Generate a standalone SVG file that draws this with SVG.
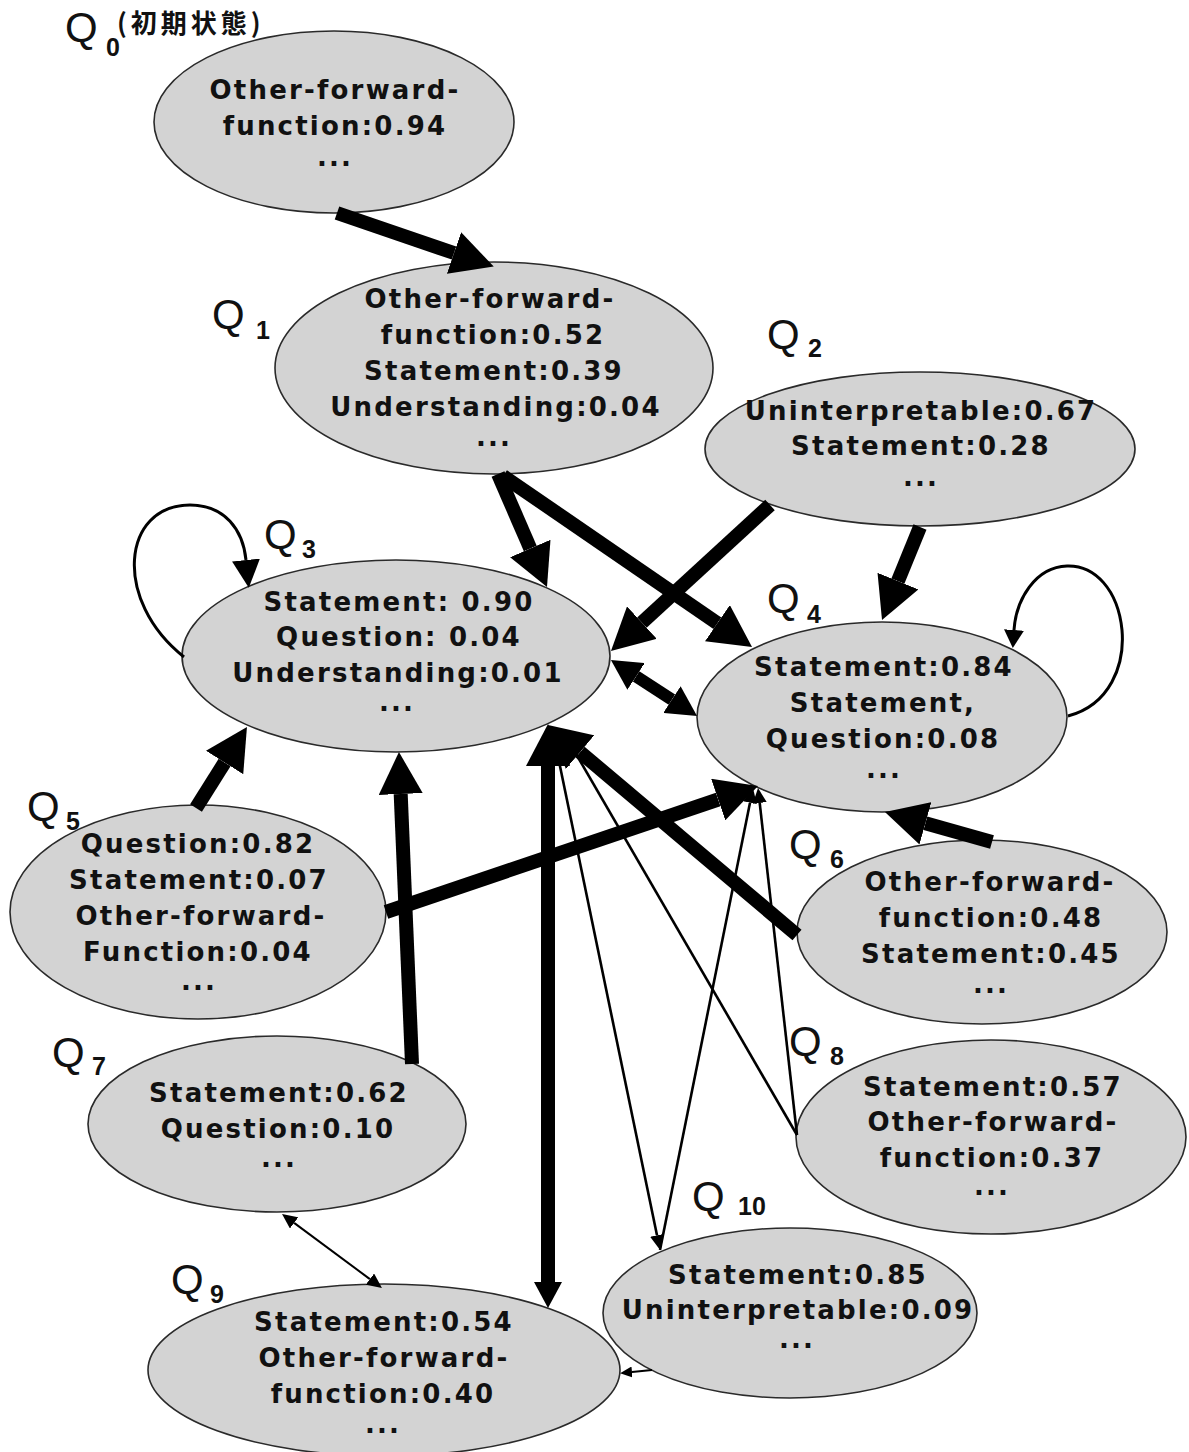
<svg xmlns="http://www.w3.org/2000/svg" width="1189" height="1452" viewBox="0 0 1189 1452">
  <style>
    .node ellipse { fill: #d3d3d3; stroke: #2a2a2a; stroke-width: 1.6; }
    .node text.t { font-family: "DejaVu Sans", Verdana, sans-serif; font-weight: bold; font-size: 26px; letter-spacing: 2.2px; text-anchor: middle; fill: #111; }
    .q { font-family: "Liberation Sans", Arial, sans-serif; font-size: 42px; fill: #111; }
    .sub { font-family: "Liberation Sans", Arial, sans-serif; font-weight: bold; font-size: 25px; fill: #111; }
    .init { font-family: "Noto Sans CJK JP", sans-serif; font-weight: bold; font-size: 26px; letter-spacing: 4px; fill: #111; }
    .thick { fill: none; stroke: #000; stroke-width: 14; }
    .med { fill: none; stroke: #000; stroke-width: 12; }
    .loop { fill: none; stroke: #000; stroke-width: 3; }
    .thin { fill: none; stroke: #000; stroke-width: 2.6; }
    .fine { fill: none; stroke: #000; stroke-width: 2; }
  </style>
  <defs>
    <marker id="big" markerUnits="userSpaceOnUse" viewBox="0 0 42 44" markerWidth="42" markerHeight="44" refX="0" refY="22" orient="auto-start-reverse">
      <path d="M0,0 L42,22 L0,44 z" fill="#000"/>
    </marker>
    <marker id="mid" markerUnits="userSpaceOnUse" viewBox="0 0 30 32" markerWidth="30" markerHeight="32" refX="0" refY="16" orient="auto-start-reverse">
      <path d="M0,0 L30,16 L0,32 z" fill="#000"/>
    </marker>
    <marker id="bot" markerUnits="userSpaceOnUse" viewBox="0 0 26 28" markerWidth="26" markerHeight="28" refX="0" refY="14" orient="auto-start-reverse">
      <path d="M0,0 L26,14 L0,28 z" fill="#000"/>
    </marker>
    <marker id="loopA" markerUnits="userSpaceOnUse" viewBox="0 0 28 28" markerWidth="28" markerHeight="28" refX="0" refY="14" orient="auto-start-reverse">
      <path d="M0,0 L28,14 L0,28 z" fill="#000"/>
    </marker>
    <marker id="loopB" markerUnits="userSpaceOnUse" viewBox="0 0 18 20" markerWidth="18" markerHeight="20" refX="0" refY="10" orient="auto-start-reverse">
      <path d="M0,0 L18,10 L0,20 z" fill="#000"/>
    </marker>
    <marker id="small" markerUnits="userSpaceOnUse" viewBox="0 0 15 14" markerWidth="15" markerHeight="14" refX="0" refY="7" orient="auto-start-reverse">
      <path d="M0,0 L15,7 L0,14 z" fill="#000"/>
    </marker>
    <marker id="tiny" markerUnits="userSpaceOnUse" viewBox="0 0 12 11" markerWidth="12" markerHeight="11" refX="0" refY="5.5" orient="auto-start-reverse">
      <path d="M0,0 L12,5.5 L0,11 z" fill="#000"/>
    </marker>
  </defs>

  <rect width="1189" height="1452" fill="#fff"/>

  <!-- states -->
  <g id="q0" class="node">
    <ellipse cx="334" cy="122" rx="180" ry="91"/>
    <text class="t" x="335" y="99">Other-forward-</text>
    <text class="t" x="335" y="135">function:0.94</text>
    <text class="t" x="335" y="166">...</text>
    <text class="q" x="65" y="42">Q</text>
    <text class="sub" x="106" y="56">0</text>
    <text class="init" x="117" y="33">(初期状態)</text>
  </g>
  <g id="q1" class="node">
    <ellipse cx="494" cy="368" rx="219" ry="106"/>
    <text class="t" x="490" y="308">Other-forward-</text>
    <text class="t" x="493" y="344">function:0.52</text>
    <text class="t" x="494" y="380">Statement:0.39</text>
    <text class="t" x="496" y="416">Understanding:0.04</text>
    <text class="t" x="494" y="446">...</text>
    <text class="q" x="212" y="329">Q</text>
    <text class="sub" x="256" y="339">1</text>
  </g>
  <g id="q2" class="node">
    <ellipse cx="920" cy="449" rx="215" ry="77"/>
    <text class="t" x="921" y="420">Uninterpretable:0.67</text>
    <text class="t" x="921" y="455">Statement:0.28</text>
    <text class="t" x="921" y="486">...</text>
    <text class="q" x="767" y="349">Q</text>
    <text class="sub" x="808" y="357">2</text>
  </g>
  <g id="q3" class="node">
    <ellipse cx="396" cy="656" rx="214" ry="96"/>
    <text class="t" x="399" y="611">Statement: 0.90</text>
    <text class="t" x="399" y="646">Question: 0.04</text>
    <text class="t" x="398" y="682">Understanding:0.01</text>
    <text class="t" x="397" y="711">...</text>
    <text class="q" x="264" y="549">Q</text>
    <text class="sub" x="302" y="558">3</text>
  </g>
  <g id="q4" class="node">
    <ellipse cx="882" cy="717" rx="185" ry="95"/>
    <text class="t" x="884" y="676">Statement:0.84</text>
    <text class="t" x="883" y="712">Statement,</text>
    <text class="t" x="883" y="748">Question:0.08</text>
    <text class="t" x="884" y="778">...</text>
    <text class="q" x="767" y="613">Q</text>
    <text class="sub" x="807" y="623">4</text>
  </g>
  <g id="q5" class="node">
    <ellipse cx="198" cy="912" rx="188" ry="107"/>
    <text class="t" x="198" y="853">Question:0.82</text>
    <text class="t" x="199" y="889">Statement:0.07</text>
    <text class="t" x="201" y="925">Other-forward-</text>
    <text class="t" x="198" y="961">Function:0.04</text>
    <text class="t" x="199" y="990">...</text>
    <text class="q" x="27" y="821">Q</text>
    <text class="sub" x="66" y="830">5</text>
  </g>
  <g id="q6" class="node">
    <ellipse cx="982" cy="932" rx="185" ry="92"/>
    <text class="t" x="990" y="891">Other-forward-</text>
    <text class="t" x="991" y="927">function:0.48</text>
    <text class="t" x="991" y="963">Statement:0.45</text>
    <text class="t" x="991" y="993">...</text>
    <text class="q" x="789" y="859">Q</text>
    <text class="sub" x="830" y="868">6</text>
  </g>
  <g id="q7" class="node">
    <ellipse cx="277" cy="1124" rx="189" ry="88"/>
    <text class="t" x="279" y="1102">Statement:0.62</text>
    <text class="t" x="278" y="1138">Question:0.10</text>
    <text class="t" x="279" y="1167">...</text>
    <text class="q" x="52" y="1067">Q</text>
    <text class="sub" x="92" y="1075">7</text>
  </g>
  <g id="q8" class="node">
    <ellipse cx="991" cy="1137" rx="195" ry="97"/>
    <text class="t" x="993" y="1096">Statement:0.57</text>
    <text class="t" x="993" y="1131">Other-forward-</text>
    <text class="t" x="992" y="1167">function:0.37</text>
    <text class="t" x="992" y="1195">...</text>
    <text class="q" x="789" y="1056">Q</text>
    <text class="sub" x="830" y="1065">8</text>
  </g>
  <g id="q9" class="node">
    <ellipse cx="384" cy="1370" rx="236" ry="86"/>
    <text class="t" x="384" y="1331">Statement:0.54</text>
    <text class="t" x="384" y="1367">Other-forward-</text>
    <text class="t" x="383" y="1403">function:0.40</text>
    <text class="t" x="383" y="1433">...</text>
    <text class="q" x="171" y="1294">Q</text>
    <text class="sub" x="210" y="1303">9</text>
  </g>
  <g id="q10" class="node">
    <ellipse cx="790" cy="1313" rx="187" ry="85"/>
    <text class="t" x="798" y="1284">Statement:0.85</text>
    <text class="t" x="798" y="1319">Uninterpretable:0.09</text>
    <text class="t" x="797" y="1348">...</text>
    <text class="q" x="692" y="1211">Q</text>
    <text class="sub" x="738" y="1215">10</text>
  </g>

  <!-- transitions -->
  <g id="connectors">
    <path class="thick" d="M337,213 L454,253" marker-end="url(#big)"/>
    <path class="thick" d="M498,474 L530.3,548.5" marker-end="url(#big)"/>
    <path class="thick" d="M503,476 L717.4,623.2" marker-end="url(#big)"/>
    <path class="thick" d="M770,505 L641.9,622.6" marker-end="url(#big)"/>
    <path class="thick" d="M920,527 L897.9,581.1" marker-end="url(#big)"/>
    <path class="med" d="M636.1,676.4 L671.9,699.6" marker-start="url(#mid)" marker-end="url(#mid)"/>
    <path class="loop" d="M184,657 C112,600 122,505 190,505 C225,505 243,530 246,560" marker-end="url(#loopA)"/>
    <path class="loop" d="M1068,716 C1110,705 1125,665 1122,630 C1118,590 1095,565 1067,566 C1035,567 1016,600 1014,630" marker-end="url(#loopB)"/>
    <path class="thick" d="M196,808 L224.6,762.5" marker-end="url(#big)"/>
    <path class="thick" d="M386,912 L718.2,799.5" marker-end="url(#big)"/>
    <path class="thick" d="M412,1064 L400.7,794" marker-end="url(#big)"/>
    <path class="thick" d="M797,935 L580.1,752.1" marker-end="url(#big)"/>
    <path class="thick" d="M992,842 L925.4,823.3" marker-end="url(#big)"/>
    <path class="thick" d="M548,766 L548,1282" marker-start="url(#big)" marker-end="url(#bot)"/>
    <path class="thin" d="M555,742 L657,1235.3" marker-end="url(#small)"/>
    <path class="thin" d="M660,1250 L750,802.7" marker-end="url(#small)"/>
    <path class="thin" d="M797,1135 L575.5,753" marker-end="url(#small)"/>
    <path class="thin" d="M797,1135 L759.7,802.9" marker-end="url(#small)"/>
    <path class="fine" d="M652,1370 L632,1372" marker-end="url(#tiny)"/>
    <path class="fine" d="M294.1,1222.9 L369.9,1279.1" marker-start="url(#small)" marker-end="url(#small)"/>
  </g>
</svg>
